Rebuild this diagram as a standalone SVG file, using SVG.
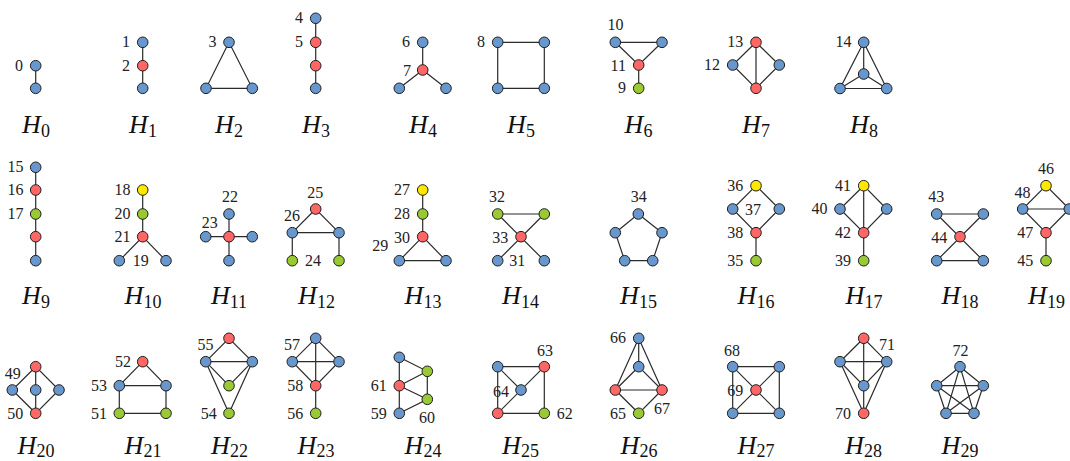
<svg xmlns="http://www.w3.org/2000/svg" width="1070" height="461" viewBox="0 0 1070 461">
<style>
.e{stroke:#2b2b2b;stroke-width:1.2;fill:none}
.n{stroke:#1e1e1e;stroke-width:1}
.b{fill:#6797cc}.r{fill:#ff6666}.g{fill:#99c933}.y{fill:#ffe800}
.l{font-family:"Liberation Serif",serif;font-size:16px;fill:#222}
.le{text-anchor:end}.lm{text-anchor:middle}
.t{font-family:"Liberation Serif",serif;font-size:26px;font-style:italic;text-anchor:middle;fill:#111}
.s{font-size:18px;font-style:normal}
</style>
<rect width="1070" height="461" fill="#fff"/>
<g id="connectors">
<!-- H0 --><path class="e" d="M35.7 65.7V88.3"/>
<!-- H1 --><path class="e" d="M142.7 42.3V88.3"/>
<!-- H2 --><path class="e" d="M229 42.3L206 88.3H252.3Z"/>
<!-- H3 --><path class="e" d="M315.7 18.3V88.3"/>
<!-- H4 --><path class="e" d="M422.7 42.3V70M422.7 70L399.3 88.3M422.7 70L446 88.3"/>
<!-- H5 --><path class="e" d="M497.7 42.3H544.3V88.3H497.7Z"/>
<!-- H6 --><path class="e" d="M615.3 42.3H662L638.7 65ZM638.7 65V88.3"/>
<!-- H7 --><path class="e" d="M756 42.3L732.7 65L756 88.3L779.3 65ZM756 42.3V88.3"/>
<!-- H8 --><path class="e" d="M863.7 42.3L840 88.5H886.7ZM863.7 42.3V74L840 88.5M863.7 74L886.7 88.5"/>
<!-- H9 --><path class="e" d="M35.7 167.3V260.7"/>
<!-- H10 --><path class="e" d="M142.7 190V236.7L119.3 260.7M142.7 236.7L166 260.7"/>
<!-- H11 --><path class="e" d="M229 214V260.7M205.7 236.7H252.3"/>
<!-- H12 --><path class="e" d="M315.7 209L292.3 232.7H339ZM292.3 232.7V260.7M339 232.7V260.7"/>
<!-- H13 --><path class="e" d="M422.7 190V236.7M422.7 236.7L399.3 260.7H446Z"/>
<!-- H14 --><path class="e" d="M497.7 214H544.3M497.7 214L544.3 260.7M544.3 214L497.7 260.7"/>
<!-- H15 --><path class="e" d="M638.3 214L662 232.7L652.7 260.7H624.7L615.3 232.7Z"/>
<!-- H16 --><path class="e" d="M756 185.7L732.7 209L756 232.7L779.3 209ZM756 232.7V260.7"/>
<!-- H17 --><path class="e" d="M863.7 185.7L840 209L863.7 232.7L886.7 209ZM863.7 185.7V260.7"/>
<!-- H18 --><path class="e" d="M936.7 214H983.3M936.7 260.7H983.3M936.7 214L983.3 260.7M983.3 214L936.7 260.7"/>
<!-- H19 --><path class="e" d="M1046 185.7L1022.7 209L1046 232.7L1069.3 209ZM1022.7 209H1069.3M1046 232.7V260.7"/>
<!-- H20 --><path class="e" d="M35.7 366.7L12.3 390L35.7 413.3L59 390ZM35.7 366.7V413.3"/>
<!-- H21 --><path class="e" d="M142.7 361.7L119.3 385.7H166ZM119.3 385.7V413.3H166V385.7"/>
<!-- H22 --><path class="e" d="M229 338.3L205.7 361.7H252.3ZM205.7 361.7L229 385.7L252.3 361.7M205.7 361.7L229 413.3L252.3 361.7"/>
<!-- H23 --><path class="e" d="M315.7 338.3L292.3 361.7L315.7 385.7L339 361.7ZM292.3 361.7H339M315.7 338.3V413.3"/>
<!-- H24 --><path class="e" d="M399.3 357.3V413.3M399.3 357.3L427.3 371.3V399.3L399.3 413.3M399.3 385.7L427.3 371.3M399.3 385.7L427.3 399.3"/>
<!-- H25 --><path class="e" d="M497.7 366.7H544.3V413.3H497.7ZM497.7 366.7L521 390M544.3 366.7L497.7 413.3"/>
<!-- H26 --><path class="e" d="M638.7 338.3V366.7M638.7 338.3L615.3 390M638.7 338.3L662 390M638.7 366.7L615.3 390M638.7 366.7L662 390M615.3 390H662M615.3 390L638.7 413.3L662 390"/>
<!-- H27 --><path class="e" d="M732.7 366.7H779.3V413.3H732.7ZM732.7 366.7L779.3 413.3M779.3 366.7L732.7 413.3"/>
<!-- H28 --><path class="e" d="M863.7 338.3L840 361.7L863.7 385.7L886.7 361.7ZM840 361.7H886.7M863.7 338.3V413.3M840 361.7L863.7 413.3L886.7 361.7"/>
<!-- H29 --><path class="e" d="M960 366.7L983.3 385.7L974 413.3H946L936.7 385.7ZM960 366.7L974 413.3M960 366.7L946 413.3M936.7 385.7H983.3M936.7 385.7L974 413.3M983.3 385.7L946 413.3"/>
</g>

<g id="graph-H0">
<circle class="n b" cx="35.7" cy="65.7" r="5.3"/><circle class="n b" cx="35.7" cy="88.3" r="5.3"/>
<text class="l le" x="23" y="71">0</text>
<text class="t" x="36" y="133">H<tspan class="s" dy="4">0</tspan></text>
</g>
<g id="graph-H1">
<circle class="n b" cx="142.7" cy="42.3" r="5.3"/><circle class="n r" cx="142.7" cy="65.7" r="5.3"/><circle class="n b" cx="142.7" cy="88.3" r="5.3"/>
<text class="l le" x="130" y="47.3">1</text><text class="l le" x="130" y="70.7">2</text>
<text class="t" x="143" y="133">H<tspan class="s" dy="4">1</tspan></text>
</g>
<g id="graph-H2">
<circle class="n b" cx="229" cy="42.3" r="5.3"/><circle class="n b" cx="206" cy="88.3" r="5.3"/><circle class="n b" cx="252.3" cy="88.3" r="5.3"/>
<text class="l le" x="216.5" y="47.3">3</text>
<text class="t" x="229" y="133">H<tspan class="s" dy="4">2</tspan></text>
</g>
<g id="graph-H3">
<circle class="n b" cx="315.7" cy="18.3" r="5.3"/><circle class="n r" cx="315.7" cy="42.3" r="5.3"/><circle class="n r" cx="315.7" cy="65.7" r="5.3"/><circle class="n b" cx="315.7" cy="88.3" r="5.3"/>
<text class="l le" x="303" y="23.3">4</text><text class="l le" x="303" y="47.3">5</text>
<text class="t" x="316" y="133">H<tspan class="s" dy="4">3</tspan></text>
</g>
<g id="graph-H4">
<circle class="n b" cx="422.7" cy="42.3" r="5.3"/><circle class="n r" cx="422.7" cy="70" r="5.3"/><circle class="n b" cx="399.3" cy="88.3" r="5.3"/><circle class="n b" cx="446" cy="88.3" r="5.3"/>
<text class="l le" x="410" y="47.3">6</text><text class="l le" x="411" y="75.5">7</text>
<text class="t" x="423" y="133">H<tspan class="s" dy="4">4</tspan></text>
</g>
<g id="graph-H5">
<circle class="n b" cx="497.7" cy="42.3" r="5.3"/><circle class="n b" cx="544.3" cy="42.3" r="5.3"/><circle class="n b" cx="497.7" cy="88.3" r="5.3"/><circle class="n b" cx="544.3" cy="88.3" r="5.3"/>
<text class="l le" x="485" y="47.3">8</text>
<text class="t" x="521" y="133">H<tspan class="s" dy="4">5</tspan></text>
</g>
<g id="graph-H6">
<circle class="n b" cx="615.3" cy="42.3" r="5.3"/><circle class="n b" cx="662" cy="42.3" r="5.3"/><circle class="n r" cx="638.7" cy="65" r="5.3"/><circle class="n g" cx="638.7" cy="88.3" r="5.3"/>
<text class="l lm" x="615.5" y="30">10</text><text class="l le" x="626" y="70.5">11</text><text class="l le" x="626" y="93.3">9</text>
<text class="t" x="638.5" y="133">H<tspan class="s" dy="4">6</tspan></text>
</g>
<g id="graph-H7">
<circle class="n r" cx="756" cy="42.3" r="5.3"/><circle class="n b" cx="732.7" cy="65" r="5.3"/><circle class="n b" cx="779.3" cy="65" r="5.3"/><circle class="n r" cx="756" cy="88.3" r="5.3"/>
<text class="l le" x="743.3" y="47.3">13</text><text class="l le" x="720" y="70.3">12</text>
<text class="t" x="756" y="133">H<tspan class="s" dy="4">7</tspan></text>
</g>
<g id="graph-H8">
<circle class="n b" cx="863.7" cy="42.3" r="5.3"/><circle class="n b" cx="863.7" cy="74" r="5.3"/><circle class="n b" cx="840" cy="88.5" r="5.3"/><circle class="n b" cx="886.7" cy="88.5" r="5.3"/>
<text class="l le" x="851.5" y="47.3">14</text>
<text class="t" x="864" y="133">H<tspan class="s" dy="4">8</tspan></text>
</g>

<g id="graph-H9">
<circle class="n b" cx="35.7" cy="167.3" r="5.3"/><circle class="n r" cx="35.7" cy="190" r="5.3"/><circle class="n g" cx="35.7" cy="214" r="5.3"/><circle class="n r" cx="35.7" cy="236.7" r="5.3"/><circle class="n b" cx="35.7" cy="260.7" r="5.3"/>
<text class="l le" x="23.5" y="172.3">15</text><text class="l le" x="23.5" y="195">16</text><text class="l le" x="23.5" y="219">17</text>
<text class="t" x="36" y="304">H<tspan class="s" dy="4">9</tspan></text>
</g>
<g id="graph-H10">
<circle class="n y" cx="142.7" cy="190" r="5.3"/><circle class="n g" cx="142.7" cy="214" r="5.3"/><circle class="n r" cx="142.7" cy="236.7" r="5.3"/><circle class="n b" cx="119.3" cy="260.7" r="5.3"/><circle class="n b" cx="166" cy="260.7" r="5.3"/>
<text class="l le" x="130.5" y="195">18</text><text class="l le" x="130.5" y="219">20</text><text class="l le" x="130.5" y="242">21</text><text class="l" x="132.7" y="265.7">19</text>
<text class="t" x="143" y="304">H<tspan class="s" dy="4">10</tspan></text>
</g>
<g id="graph-H11">
<circle class="n b" cx="229" cy="214" r="5.3"/><circle class="n b" cx="205.7" cy="236.7" r="5.3"/><circle class="n r" cx="229" cy="236.7" r="5.3"/><circle class="n b" cx="252.3" cy="236.7" r="5.3"/><circle class="n b" cx="229" cy="260.7" r="5.3"/>
<text class="l lm" x="230" y="202">22</text><text class="l lm" x="209.7" y="227.5">23</text>
<text class="t" x="229" y="304">H<tspan class="s" dy="4">11</tspan></text>
</g>
<g id="graph-H12">
<circle class="n r" cx="315.7" cy="209" r="5.3"/><circle class="n b" cx="292.3" cy="232.7" r="5.3"/><circle class="n b" cx="339" cy="232.7" r="5.3"/><circle class="n g" cx="292.3" cy="260.7" r="5.3"/><circle class="n g" cx="339" cy="260.7" r="5.3"/>
<text class="l lm" x="315.3" y="197.5">25</text><text class="l lm" x="292" y="221">26</text><text class="l" x="305" y="265.7">24</text>
<text class="t" x="316.5" y="304">H<tspan class="s" dy="4">12</tspan></text>
</g>
<g id="graph-H13">
<circle class="n y" cx="422.7" cy="190" r="5.3"/><circle class="n g" cx="422.7" cy="214" r="5.3"/><circle class="n r" cx="422.7" cy="236.7" r="5.3"/><circle class="n b" cx="399.3" cy="260.7" r="5.3"/><circle class="n b" cx="446" cy="260.7" r="5.3"/>
<text class="l le" x="410" y="195">27</text><text class="l le" x="410" y="219">28</text><text class="l le" x="410" y="243">30</text><text class="l le" x="388.3" y="250.5">29</text>
<text class="t" x="423" y="304">H<tspan class="s" dy="4">13</tspan></text>
</g>
<g id="graph-H14">
<circle class="n g" cx="497.7" cy="214" r="5.3"/><circle class="n g" cx="544.3" cy="214" r="5.3"/><circle class="n r" cx="521" cy="236.7" r="5.3"/><circle class="n b" cx="497.7" cy="260.7" r="5.3"/><circle class="n b" cx="544.3" cy="260.7" r="5.3"/>
<text class="l lm" x="497" y="202">32</text><text class="l le" x="508.3" y="243">33</text><text class="l" x="509.3" y="265.7">31</text>
<text class="t" x="520.5" y="304">H<tspan class="s" dy="4">14</tspan></text>
</g>
<g id="graph-H15">
<circle class="n b" cx="638.3" cy="214" r="5.3"/><circle class="n b" cx="615.3" cy="232.7" r="5.3"/><circle class="n b" cx="662" cy="232.7" r="5.3"/><circle class="n b" cx="624.7" cy="260.7" r="5.3"/><circle class="n b" cx="652.7" cy="260.7" r="5.3"/>
<text class="l lm" x="638.7" y="202">34</text>
<text class="t" x="638.5" y="304">H<tspan class="s" dy="4">15</tspan></text>
</g>
<g id="graph-H16">
<circle class="n y" cx="756" cy="185.7" r="5.3"/><circle class="n b" cx="732.7" cy="209" r="5.3"/><circle class="n b" cx="779.3" cy="209" r="5.3"/><circle class="n r" cx="756" cy="232.7" r="5.3"/><circle class="n g" cx="756" cy="260.7" r="5.3"/>
<text class="l le" x="743.3" y="190.7">36</text><text class="l lm" x="753" y="214.5">37</text><text class="l le" x="743.3" y="237.7">38</text><text class="l le" x="743.3" y="265.7">35</text>
<text class="t" x="756" y="304">H<tspan class="s" dy="4">16</tspan></text>
</g>
<g id="graph-H17">
<circle class="n y" cx="863.7" cy="185.7" r="5.3"/><circle class="n b" cx="840" cy="209" r="5.3"/><circle class="n b" cx="886.7" cy="209" r="5.3"/><circle class="n r" cx="863.7" cy="232.7" r="5.3"/><circle class="n g" cx="863.7" cy="260.7" r="5.3"/>
<text class="l le" x="851" y="190.7">41</text><text class="l le" x="827.5" y="214">40</text><text class="l le" x="851" y="237.7">42</text><text class="l le" x="851" y="265.7">39</text>
<text class="t" x="864" y="304">H<tspan class="s" dy="4">17</tspan></text>
</g>
<g id="graph-H18">
<circle class="n b" cx="936.7" cy="214" r="5.3"/><circle class="n b" cx="983.3" cy="214" r="5.3"/><circle class="n r" cx="960" cy="236.7" r="5.3"/><circle class="n b" cx="936.7" cy="260.7" r="5.3"/><circle class="n b" cx="983.3" cy="260.7" r="5.3"/>
<text class="l lm" x="936.3" y="202">43</text><text class="l le" x="947.3" y="243">44</text>
<text class="t" x="960" y="304">H<tspan class="s" dy="4">18</tspan></text>
</g>
<g id="graph-H19">
<circle class="n y" cx="1046" cy="185.7" r="5.3"/><circle class="n b" cx="1022.7" cy="209" r="5.3"/><circle class="n b" cx="1069.3" cy="209" r="5.3"/><circle class="n r" cx="1046" cy="232.7" r="5.3"/><circle class="n g" cx="1046" cy="260.7" r="5.3"/>
<text class="l lm" x="1046" y="174">46</text><text class="l lm" x="1022.5" y="197.5">48</text><text class="l le" x="1033.3" y="237.7">47</text><text class="l le" x="1033.3" y="265.7">45</text>
<text class="t" x="1046.5" y="304">H<tspan class="s" dy="4">19</tspan></text>
</g>

<g id="graph-H20">
<circle class="n r" cx="35.7" cy="366.7" r="5.3"/><circle class="n b" cx="12.3" cy="390" r="5.3"/><circle class="n b" cx="35.7" cy="390" r="5.3"/><circle class="n b" cx="59" cy="390" r="5.3"/><circle class="n r" cx="35.7" cy="413.3" r="5.3"/>
<text class="l lm" x="12.8" y="379">49</text><text class="l le" x="23.3" y="419">50</text>
<text class="t" x="36" y="453.5">H<tspan class="s" dy="3.5">20</tspan></text>
</g>
<g id="graph-H21">
<circle class="n r" cx="142.7" cy="361.7" r="5.3"/><circle class="n b" cx="119.3" cy="385.7" r="5.3"/><circle class="n b" cx="166" cy="385.7" r="5.3"/><circle class="n g" cx="119.3" cy="413.3" r="5.3"/><circle class="n g" cx="166" cy="413.3" r="5.3"/>
<text class="l le" x="131" y="367">52</text><text class="l le" x="107" y="391">53</text><text class="l le" x="107" y="418.5">51</text>
<text class="t" x="143" y="453.5">H<tspan class="s" dy="3.5">21</tspan></text>
</g>
<g id="graph-H22">
<circle class="n r" cx="229" cy="338.3" r="5.3"/><circle class="n b" cx="205.7" cy="361.7" r="5.3"/><circle class="n b" cx="252.3" cy="361.7" r="5.3"/><circle class="n g" cx="229" cy="385.7" r="5.3"/><circle class="n g" cx="229" cy="413.3" r="5.3"/>
<text class="l lm" x="205.5" y="350">55</text><text class="l le" x="216.7" y="418.5">54</text>
<text class="t" x="229.5" y="453.5">H<tspan class="s" dy="3.5">22</tspan></text>
</g>
<g id="graph-H23">
<circle class="n b" cx="315.7" cy="338.3" r="5.3"/><circle class="n b" cx="292.3" cy="361.7" r="5.3"/><circle class="n b" cx="339" cy="361.7" r="5.3"/><circle class="n r" cx="315.7" cy="385.7" r="5.3"/><circle class="n g" cx="315.7" cy="413.3" r="5.3"/>
<text class="l lm" x="292" y="350">57</text><text class="l le" x="303.3" y="391">58</text><text class="l le" x="303.3" y="418.5">56</text>
<text class="t" x="316" y="453.5">H<tspan class="s" dy="3.5">23</tspan></text>
</g>
<g id="graph-H24">
<circle class="n b" cx="399.3" cy="357.3" r="5.3"/><circle class="n r" cx="399.3" cy="385.7" r="5.3"/><circle class="n b" cx="399.3" cy="413.3" r="5.3"/><circle class="n g" cx="427.3" cy="371.3" r="5.3"/><circle class="n g" cx="427.3" cy="399.3" r="5.3"/>
<text class="l le" x="386.7" y="391">61</text><text class="l le" x="386.7" y="418.5">59</text><text class="l lm" x="427" y="423">60</text>
<text class="t" x="423" y="453.5">H<tspan class="s" dy="3.5">24</tspan></text>
</g>
<g id="graph-H25">
<circle class="n b" cx="497.7" cy="366.7" r="5.3"/><circle class="n r" cx="544.3" cy="366.7" r="5.3"/><circle class="n b" cx="521" cy="390" r="5.3"/><circle class="n r" cx="497.7" cy="413.3" r="5.3"/><circle class="n g" cx="544.3" cy="413.3" r="5.3"/>
<text class="l lm" x="545" y="356">63</text><text class="l le" x="509" y="396.5">64</text><text class="l" x="556.7" y="418.5">62</text>
<text class="t" x="520.5" y="453.5">H<tspan class="s" dy="3.5">25</tspan></text>
</g>
<g id="graph-H26">
<circle class="n b" cx="638.7" cy="338.3" r="5.3"/><circle class="n b" cx="638.7" cy="366.7" r="5.3"/><circle class="n r" cx="615.3" cy="390" r="5.3"/><circle class="n r" cx="662" cy="390" r="5.3"/><circle class="n g" cx="638.7" cy="413.3" r="5.3"/>
<text class="l le" x="626" y="343.3">66</text><text class="l le" x="626" y="418.5">65</text><text class="l lm" x="662" y="413.5">67</text>
<text class="t" x="639" y="453.5">H<tspan class="s" dy="3.5">26</tspan></text>
</g>
<g id="graph-H27">
<circle class="n b" cx="732.7" cy="366.7" r="5.3"/><circle class="n b" cx="779.3" cy="366.7" r="5.3"/><circle class="n r" cx="756" cy="390" r="5.3"/><circle class="n b" cx="732.7" cy="413.3" r="5.3"/><circle class="n b" cx="779.3" cy="413.3" r="5.3"/>
<text class="l lm" x="732" y="356">68</text><text class="l le" x="743.3" y="396">69</text>
<text class="t" x="756" y="453.5">H<tspan class="s" dy="3.5">27</tspan></text>
</g>
<g id="graph-H28">
<circle class="n r" cx="863.7" cy="338.3" r="5.3"/><circle class="n b" cx="840" cy="361.7" r="5.3"/><circle class="n b" cx="886.7" cy="361.7" r="5.3"/><circle class="n b" cx="863.7" cy="385.7" r="5.3"/><circle class="n r" cx="863.7" cy="413.3" r="5.3"/>
<text class="l lm" x="887" y="350">71</text><text class="l le" x="851" y="418.5">70</text>
<text class="t" x="863.5" y="453.5">H<tspan class="s" dy="3.5">28</tspan></text>
</g>
<g id="graph-H29">
<circle class="n b" cx="960" cy="366.7" r="5.3"/><circle class="n b" cx="936.7" cy="385.7" r="5.3"/><circle class="n b" cx="983.3" cy="385.7" r="5.3"/><circle class="n b" cx="946" cy="413.3" r="5.3"/><circle class="n b" cx="974" cy="413.3" r="5.3"/>
<text class="l lm" x="960.5" y="356">72</text>
<text class="t" x="960" y="453.5">H<tspan class="s" dy="3.5">29</tspan></text>
</g>
</svg>
